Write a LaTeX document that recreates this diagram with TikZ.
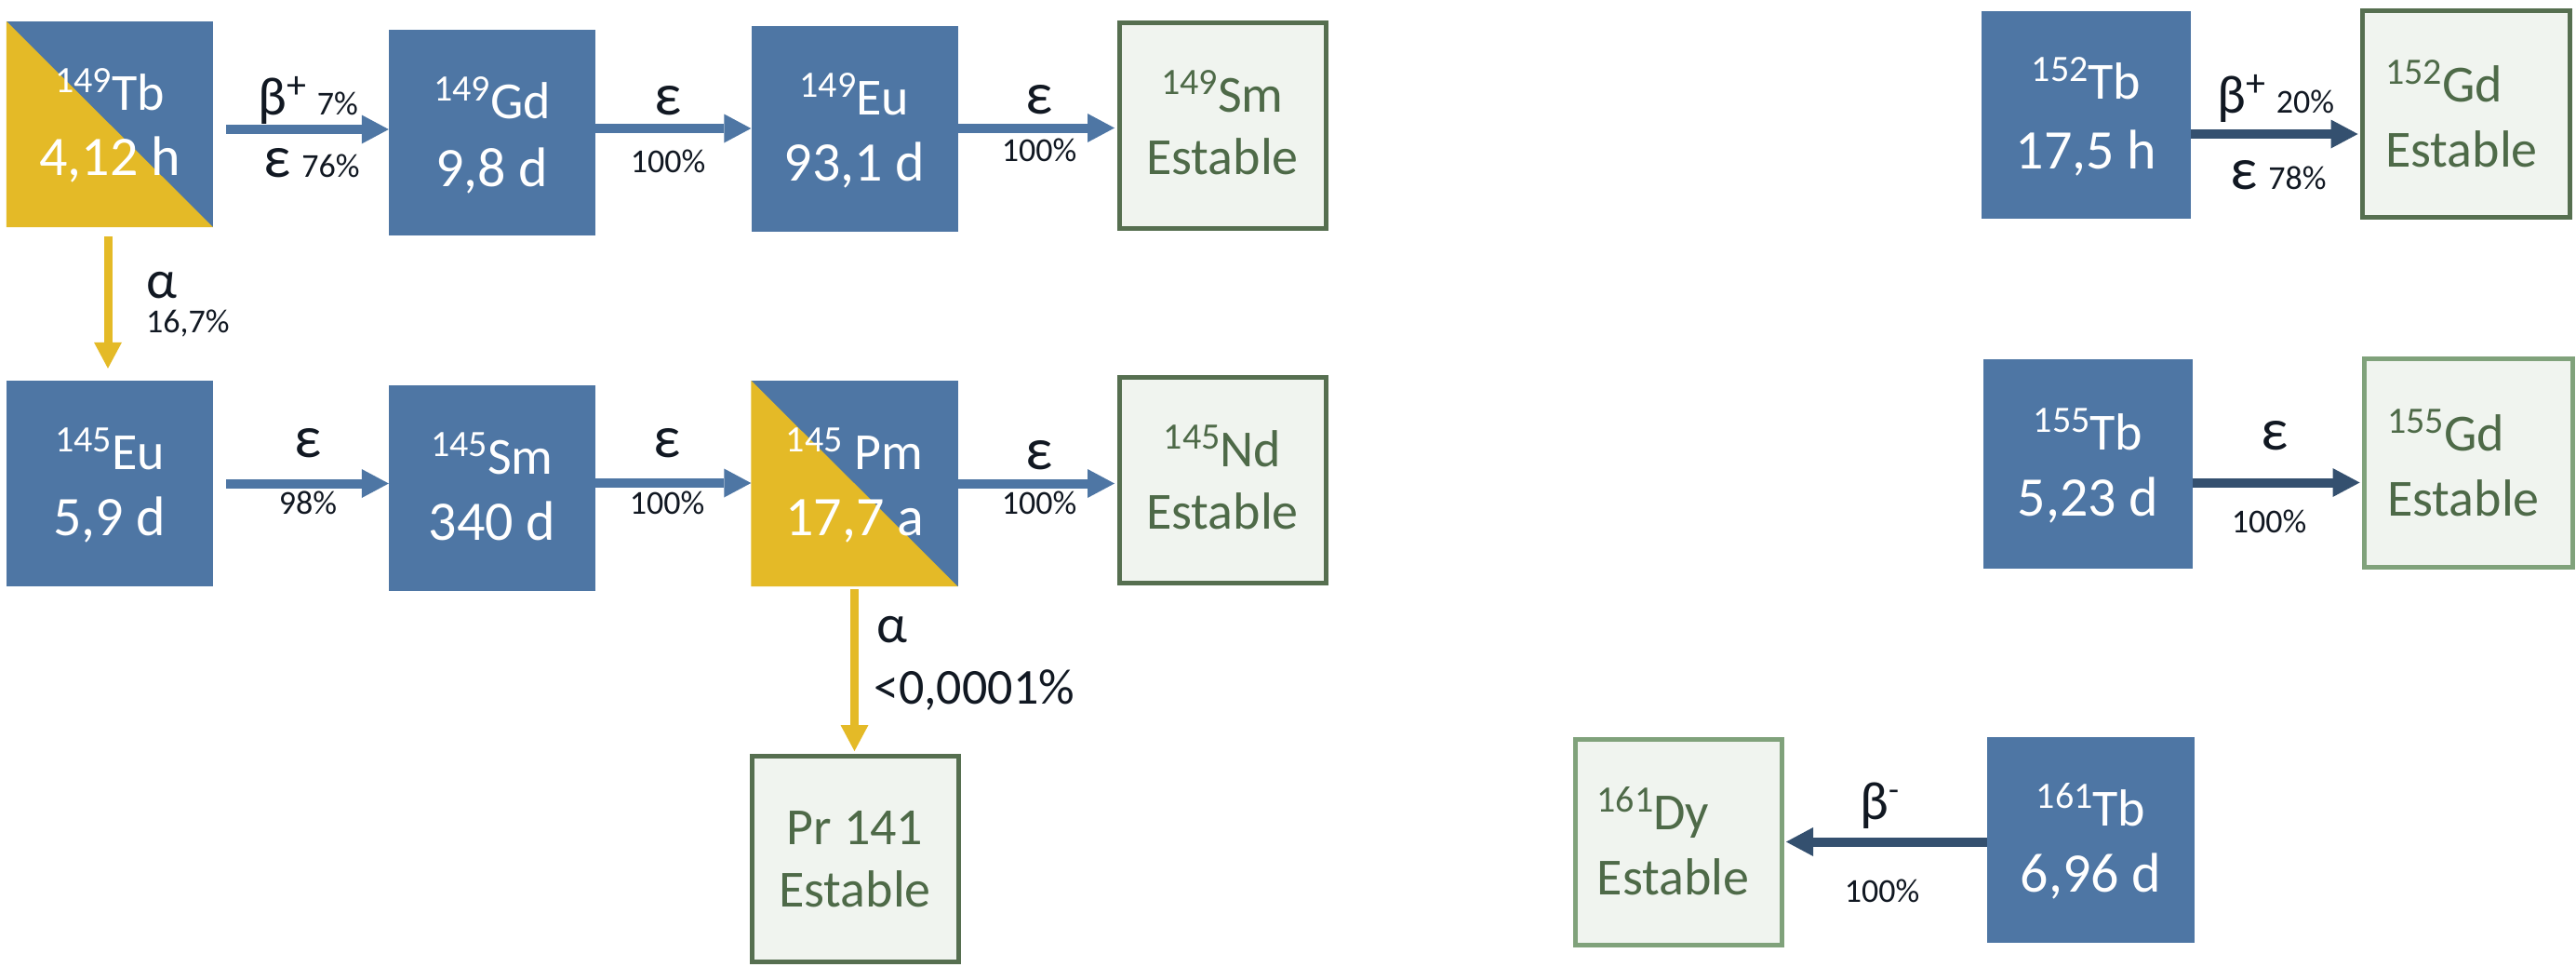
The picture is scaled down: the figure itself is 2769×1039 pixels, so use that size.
\documentclass[tikz,border=0pt]{standalone}
\usepackage{fontspec}
\setmainfont{Carlito}
\usetikzlibrary{arrows.meta}
\definecolor{boxblue}{HTML}{4E76A4}
\definecolor{gold}{HTML}{E4BA27}
\definecolor{stabfill}{HTML}{F0F4EF}
\definecolor{darkgreen}{HTML}{566F50}
\definecolor{lightgreen}{HTML}{80A27B}
\definecolor{stabtext}{HTML}{4E6A48}
\definecolor{darkarrow}{HTML}{34506F}
\definecolor{labeltext}{HTML}{111822}
\newcommand\sps[1]{\raisebox{19pt}{\fontsize{40}{40}\selectfont #1}}
\newcommand\nmf{\fontsize{56}{60}\selectfont}
\newcommand\hlf{\fontsize{60}{64}\selectfont}
\newcommand\pctf{\fontsize{36}{40}\selectfont}
\newcommand\grkf{\fontsize{58}{60}\selectfont}
\newcommand\epsf{\fontsize{64}{66}\selectfont}
\tikzset{
  radbox/.style={fill=boxblue, inner sep=0pt, minimum width=222pt, minimum height=221pt},
  stabbox/.style={fill=stabfill, draw=darkgreen, line width=5pt, inner sep=0pt, minimum width=222pt, minimum height=221pt},
  stabboxl/.style={stabbox, draw=lightgreen},
  wtxt/.style={text=white, anchor=base, inner sep=0pt},
  gtxt/.style={text=stabtext, anchor=base, inner sep=0pt},
  lbl/.style={text=labeltext, anchor=base, inner sep=0pt},
  arr/.style={line width=10pt, -{Triangle[length=29pt,width=31pt,line width=0pt]}},
  barr/.style={arr, draw=boxblue},
  darr/.style={arr, draw=darkarrow},
  garr/.style={line width=9pt, draw=gold, -{Triangle[length=28pt,width=30pt,line width=0pt]}},
}
\begin{document}
\begin{tikzpicture}[x=1pt,y=-1pt]
\useasboundingbox (0,0) rectangle (2769,1039);
\fill[white] (0,0) rectangle (2769,1039);

% ---- boxes ----
\node[radbox] (Tb149) at (118,133.5) {};
\fill[gold] (Tb149.north west) -- (Tb149.south east) -- (Tb149.south west) -- cycle;
\node[radbox] (Gd149) at (529,142.5) {};
\node[radbox] (Eu149) at (918.5,138.5) {};
\node[stabbox] (Sm149) at (1314,135) {};

\node[radbox] (Eu145) at (118,519.5) {};
\node[radbox] (Sm145) at (529,524) {};
\node[radbox] (Pm145) at (918.5,519.5) {};
\fill[gold] (Pm145.north west) -- (Pm145.south east) -- (Pm145.south west) -- cycle;
\node[stabbox] (Nd145) at (1314,516) {};
\node[stabbox] (Pr141) at (919,922.5) {};

\node[radbox, minimum width=225pt, minimum height=223pt] (Tb152) at (2242.5,123.5) {};
\node[stabbox, minimum width=223pt, minimum height=222pt] (Gd152) at (2651,122.5) {};
\node[radbox, minimum width=225pt, minimum height=225pt] (Tb155) at (2244.5,498.5) {};
\node[stabboxl, minimum width=224pt, minimum height=224pt] (Gd155) at (2653.5,497.5) {};
\node[stabboxl] (Dy161) at (1804,905) {};
\node[radbox, minimum width=223pt] (Tb161) at (2247.5,902.5) {};

% ---- box texts ----
\node[wtxt] (Tb149a) at ([yshift=15pt]Tb149.center) {\nmf\sps{149}Tb};
\node[wtxt] (Tb149b) at ([yshift=-55pt]Tb149.center) {\hlf 4,12 h};
\node[wtxt] (Gd149a) at ([yshift=15pt]Gd149.center) {\nmf\sps{149}Gd};
\node[wtxt] (Gd149b) at ([yshift=-58pt]Gd149.center) {\hlf 9,8 d};
\node[wtxt] (Eu149a) at ([yshift=15pt]Eu149.center) {\nmf\sps{149}Eu};
\node[wtxt] (Eu149b) at ([yshift=-56pt]Eu149.center) {\hlf 93,1 d};
\node[gtxt] (Sm149a) at ([yshift=15pt]Sm149.center) {\nmf\sps{149}Sm};
\node[gtxt] (Sm149b) at ([yshift=-52pt]Sm149.center) {\nmf Estable};

\node[wtxt] (Eu145a) at ([yshift=15pt]Eu145.center) {\nmf\sps{145}Eu};
\node[wtxt] (Eu145b) at ([yshift=-56pt]Eu145.center) {\hlf 5,9 d};
\node[wtxt] (Sm145a) at ([yshift=15pt]Sm145.center) {\nmf\sps{145}Sm};
\node[wtxt] (Sm145b) at ([yshift=-56pt]Sm145.center) {\hlf 340 d};
\node[wtxt] (Pm145a) at ([yshift=15pt]Pm145.center) {\nmf\sps{145} Pm};
\node[wtxt] (Pm145b) at ([yshift=-56pt]Pm145.center) {\hlf 17,7 a};
\node[gtxt] (Nd145a) at ([yshift=15pt]Nd145.center) {\nmf\sps{145}Nd};
\node[gtxt] (Nd145b) at ([yshift=-52pt]Nd145.center) {\nmf Estable};
\node[gtxt] (Pr141a) at ([yshift=15pt]Pr141.center) {\nmf Pr 141};
\node[gtxt] (Pr141b) at ([yshift=-52pt]Pr141.center) {\nmf Estable};

\node[wtxt] (Tb152a) at ([yshift=17pt]Tb152.center) {\nmf\sps{152}Tb};
\node[wtxt] (Tb152b) at ([yshift=-58pt]Tb152.center) {\hlf 17,5 h};
\node[gtxt, anchor=base west] (Gd152a) at ([xshift=27pt,yshift=13.5pt]Gd152.west) {\nmf\sps{152}Gd};
\node[gtxt, anchor=base west] (Gd152b) at ([xshift=27pt,yshift=-56.5pt]Gd152.west) {\nmf Estable};
\node[wtxt] (Tb155a) at ([yshift=15pt]Tb155.center) {\nmf\sps{155}Tb};
\node[wtxt] (Tb155b) at ([yshift=-56pt]Tb155.center) {\hlf 5,23 d};
\node[gtxt, anchor=base west] (Gd155a) at ([xshift=27pt,yshift=13.5pt]Gd155.west) {\nmf\sps{155}Gd};
\node[gtxt, anchor=base west] (Gd155b) at ([xshift=27pt,yshift=-56.5pt]Gd155.west) {\nmf Estable};
\node[gtxt, anchor=base west] (Dy161a) at ([xshift=26pt,yshift=13.5pt]Dy161.west) {\nmf\sps{161}Dy};
\node[gtxt, anchor=base west] (Dy161b) at ([xshift=26pt,yshift=-56.5pt]Dy161.west) {\nmf Estable};
\node[wtxt] (Tb161a) at ([yshift=15pt]Tb161.center) {\nmf\sps{161}Tb};
\node[wtxt] (Tb161b) at ([yshift=-56pt]Tb161.center) {\hlf 6,96 d};

% ---- connectors ----
\draw[barr] ([xshift=14pt,yshift=-5.5pt]Tb149.east) -- ([yshift=-5.5pt]Tb149.east -| Gd149.west);
\draw[barr] ([yshift=4.5pt]Gd149.east) -- ([yshift=4.5pt]Gd149.east -| Eu149.west);
\draw[barr, shorten >=2.5pt] ([yshift=1pt]Eu149.east) -- ([yshift=1pt]Eu149.east -| Sm149.west);
\draw[barr] ([xshift=14pt]Eu145.east) -- (Eu145.east -| Sm145.west);
\draw[barr] ([yshift=5pt]Sm145.east) -- ([yshift=5pt]Sm145.east -| Pm145.west);
\draw[barr, shorten >=2.5pt] (Pm145.east) -- (Pm145.east -| Nd145.west);
\draw[garr, shorten <=10pt, shorten >=13pt] ([xshift=-2pt]Tb149.south) -- ([xshift=-2pt]Tb149.south |- Eu145.north);
\draw[garr, shorten <=3pt, shorten >=2.5pt] (Pm145.south) -- (Pm145.south |- Pr141.north);
\draw[darr, shorten >=2.5pt] ([yshift=-20.5pt]Tb152.east) -- ([yshift=-20.5pt]Tb152.east -| Gd152.west);
\draw[darr, shorten >=2.5pt] ([yshift=-20pt]Tb155.east) -- ([yshift=-20pt]Tb155.east -| Gd155.west);
\draw[darr, shorten >=2.5pt] ([yshift=-2pt]Tb161.west) -- ([yshift=-2pt]Tb161.west -| Dy161.east);

% ---- labels ----
\node[lbl, anchor=base west] (L1) at (277,123) {{\grkf β}\raisebox{18pt}{\fontsize{42}{44}\selectfont +}\hspace{12pt}{\pctf 7\%}};
\node[lbl, anchor=base west] (L2) at (283,190) {{\epsf ε}\hspace{12pt}{\pctf 76\%}};
\node[lbl] (L3) at (718,123) {\epsf ε};
\node[lbl] (L4) at (718,185) {\pctf 100\%};
\node[lbl] (L5) at (1117,122) {\epsf ε};
\node[lbl] (L6) at (1117,173) {\pctf 100\%};
\node[lbl, anchor=base west] (L7) at (157,320) {\grkf α};
\node[lbl, anchor=base west] (L8) at (157,357) {\pctf 16,7\%};

\node[lbl] (L9) at (331,491) {\epsf ε};
\node[lbl] (L10) at (331,552) {\pctf 98\%};
\node[lbl] (L11) at (717,491) {\epsf ε};
\node[lbl] (L12) at (717,552) {\pctf 100\%};
\node[lbl] (L13) at (1117,504) {\epsf ε};
\node[lbl] (L14) at (1117,552) {\pctf 100\%};
\node[lbl, anchor=base west] (L15) at (942,690) {\grkf α};
\node[lbl, anchor=base west] (L16) at (939,756) {\fontsize{54}{58}\selectfont <0,0001\%};

\node[lbl, anchor=base west] (L17) at (2383,121) {{\grkf β}\raisebox{18pt}{\fontsize{42}{44}\selectfont +}\hspace{12pt}{\pctf 20\%}};
\node[lbl, anchor=base west] (L18) at (2397,203) {{\epsf ε}\hspace{12pt}{\pctf 78\%}};
\node[lbl] (L19) at (2445,483) {\epsf ε};
\node[lbl] (L20) at (2439,572) {\pctf 100\%};
\node[lbl, anchor=base west] (L21) at (1999,880) {{\grkf β}\raisebox{20pt}{\pctf -}};
\node[lbl] (L22) at (2023,969) {\pctf 100\%};
\end{tikzpicture}
\end{document}
